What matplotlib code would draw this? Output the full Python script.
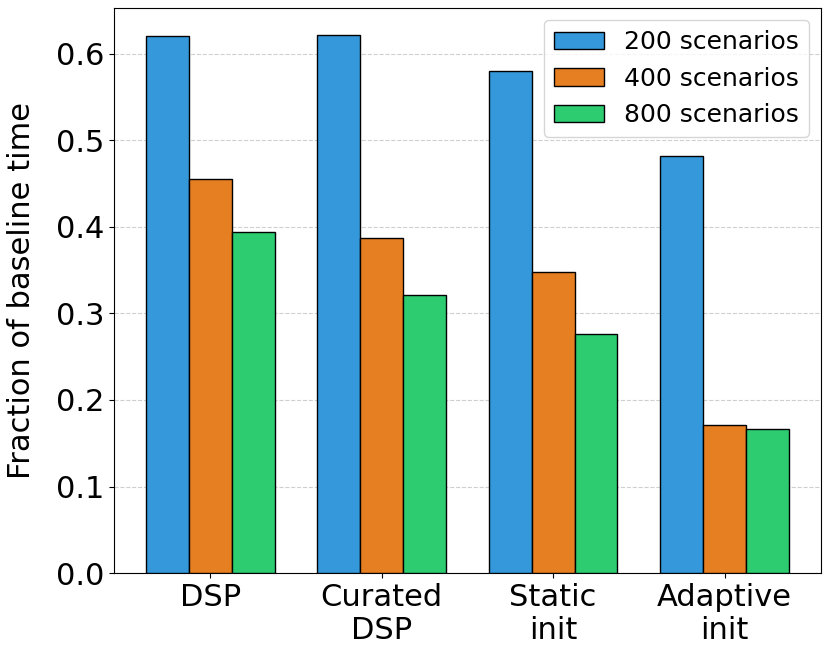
import matplotlib
matplotlib.use('Agg')
import matplotlib.pyplot as plt
import numpy as np

# Data
methods = ['DSP', 'Curated\nDSP', 'Static\ninit', 'Adaptive\ninit']
series_labels = ['200 scenarios', '400 scenarios', '800 scenarios']
s200 = [0.620, 0.622, 0.580, 0.482]
s400 = [0.455, 0.387, 0.348, 0.171]
s800 = [0.394, 0.321, 0.276, 0.166]
colors = ['#3498db', '#e67e22', '#2ecc71']

fig, ax = plt.subplots(figsize=(8.31, 6.55), dpi=100)
x = np.arange(len(methods))
w = 0.25
for i, (vals, lab, c) in enumerate(zip([s200, s400, s800], series_labels, colors)):
    ax.bar(x + (i - 1) * w, vals, w, label=lab, color=c, edgecolor='black', linewidth=1, zorder=3)

ax.set_ylabel('Fraction of baseline time', fontsize=22, labelpad=14)
ax.set_xticks(x)
ax.set_xticklabels(methods, fontsize=22)
ax.tick_params(axis='y', labelsize=22)
ax.set_yticks(np.arange(0, 0.61, 0.1))
ax.set_ylim(0, 0.653)
ax.grid(axis='y', linestyle='--', alpha=0.6, zorder=0)
ax.legend(fontsize=18, loc='upper right')

plt.subplots_adjust(left=0.137, right=0.988, top=0.988, bottom=0.125)
plt.savefig('out.png')
